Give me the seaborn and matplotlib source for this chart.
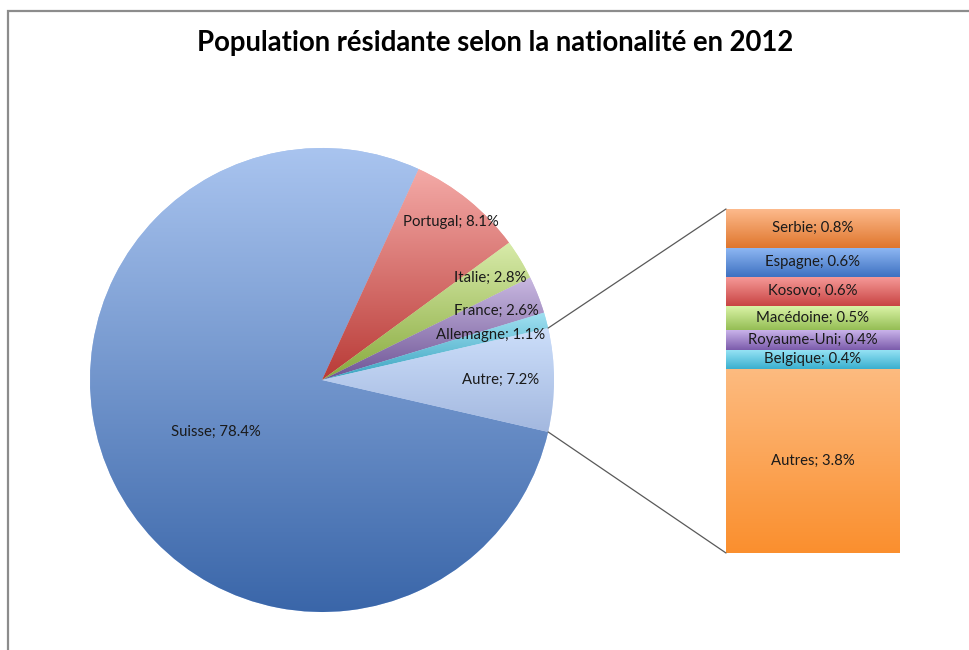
import numpy as np
import seaborn as sns
import matplotlib.pyplot as plt
from matplotlib.colors import LinearSegmentedColormap
from matplotlib.patches import ConnectionPatch, Rectangle

# pie data (Excel series order)
pays = ['Suisse', 'Portugal', 'Italie', 'France', 'Allemagne', 'Autre']
parts = [78.4, 8.1, 2.8, 2.6, 1.1, 7.2]
pie_top = ['#a9c4ef', '#f4aaa7', '#d8ebaa', '#c9b9e1', '#a2e1f2', '#ccdefa']
pie_bot = ['#3a66a9', '#b93b37', '#88aa3e', '#6e5495', '#3aa4c0', '#a3b8df']
label_dist = [0.51, 0.88, 0.85, 0.81, 0.75, 0.77]

# detail of "Autre", top to bottom
autres = ['Serbie', 'Espagne', 'Kosovo', 'Macédoine', 'Royaume-Uni', 'Belgique', 'Autres']
autres_val = [0.8, 0.6, 0.6, 0.5, 0.4, 0.4, 3.8]
bar_top = ['#fdba8d', '#90b9f4', '#f79c9a', '#ddf6aa', '#c9b3ea', '#9ae5f6', '#fdbb80']
bar_bot = ['#df762c', '#3e71c1', '#c84443', '#94bd54', '#7b5bab', '#39afcf', '#fa8f2e']

sns.set_style('white')
plt.rcParams['font.family'] = ['Lato', 'DejaVu Sans']
txt_col = '#1a1a1a'


def gradient_fill(ax, patch, top, bottom):
    # vertical gradient clipped to the patch
    ext = patch.get_path().get_extents(patch.get_patch_transform())
    cmap = LinearSegmentedColormap.from_list('g', [bottom, top])
    grad = np.linspace(0, 1, 256).reshape(-1, 1)
    im = ax.imshow(grad, extent=[ext.x0, ext.x1, ext.y0, ext.y1], origin='lower',
                   cmap=cmap, aspect='auto', zorder=patch.get_zorder() + 0.1,
                   interpolation='bilinear')
    im.set_clip_path(patch)


fig = plt.figure(figsize=(9.7, 6.5), dpi=100)
W, H = 970, 650

# frame (cropped on right and bottom)
fig.patches.append(Rectangle((8.5 / W, -0.1), 1.2, 1 - 10.5 / H + 0.1,
                             transform=fig.transFigure, fill=False,
                             edgecolor='#8c8c8c', lw=1.6))

# pie
axp = fig.add_axes([90 / W, (H - 612) / H, 464 / W, 464 / H])
start = -parts[-1] / sum(parts) * 360 / 2
wedges, _ = axp.pie(parts[::-1], startangle=start, radius=1,
                    colors=pie_top[::-1], wedgeprops=dict(lw=0))
wedges = wedges[::-1]
for w, c1, c2 in zip(wedges, pie_top, pie_bot):
    gradient_fill(axp, w, c1, c2)
for w, name, v, d in zip(wedges, pays, parts, label_dist):
    mid = np.deg2rad((w.theta1 + w.theta2) / 2)
    axp.text(d * np.cos(mid), d * np.sin(mid), f'{name}; {v}%', ha='center',
             va='center', fontsize=10.7, color=txt_col, zorder=5)
axp.set_xlim(-1, 1)
axp.set_ylim(-1, 1)
axp.set_aspect('equal')
axp.axis('off')

# bar of pie
axb = fig.add_axes([726 / W, (H - 553) / H, 174 / W, 344 / H])
total = sum(autres_val)
bottoms = total - np.cumsum(autres_val)
bars = axb.bar([0] * len(autres_val), autres_val, bottom=bottoms, width=1,
               color=bar_top, lw=0)
for b, c1, c2 in zip(bars, bar_top, bar_bot):
    gradient_fill(axb, b, c1, c2)
for name, v, b0 in zip(autres, autres_val, bottoms):
    axb.text(0, b0 + v / 2, f'{name}; {v}%', ha='center', va='center',
             fontsize=10.7, color=txt_col, zorder=5)
axb.set_xlim(-0.5, 0.5)
axb.set_ylim(0, total)
axb.axis('off')

# connector lines
autre = wedges[-1]
for ang, yb in [(autre.theta2, total), (autre.theta1, 0)]:
    a = np.deg2rad(ang)
    con = ConnectionPatch(xyA=(np.cos(a), np.sin(a)), coordsA=axp.transData,
                          xyB=(-0.5, yb), coordsB=axb.transData,
                          color='#595959', lw=0.9)
    fig.add_artist(con)

fig.text(495 / W, 1 - 43 / H, 'Population résidante selon la nationalité en 2012',
         ha='center', va='center', fontsize=19.8, fontweight='bold', color='#000000')

fig.savefig('out.png', dpi=100)
